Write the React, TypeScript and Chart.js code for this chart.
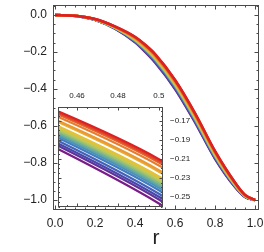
import React, { useEffect, useRef } from "react";
import { Chart, registerables } from "chart.js";

Chart.register(...registerables);

// ---------- data ----------
const rValues = [0, 0.1, 0.2, 0.3, 0.4, 0.45, 0.5, 0.6, 0.7, 0.8, 0.9, 0.95, 1];

const curve01 = [0, -0.004, -0.022, -0.062, -0.118, -0.1596, -0.2103, -0.35, -0.53, -0.735, -0.905, -0.972, -1];
const curve02 = [0, -0.004, -0.0221, -0.0624, -0.1191, -0.1611, -0.2121, -0.3519, -0.5319, -0.7366, -0.9059, -0.9724, -1];
const curve03 = [0, -0.0041, -0.0223, -0.063, -0.1204, -0.1628, -0.214, -0.354, -0.534, -0.7384, -0.907, -0.973, -1];
const curve04 = [0, -0.0041, -0.0226, -0.0637, -0.1223, -0.1653, -0.217, -0.3572, -0.5372, -0.741, -0.9086, -0.9737, -1];
const curve05 = [0, -0.0042, -0.023, -0.065, -0.1255, -0.1694, -0.2219, -0.3625, -0.5425, -0.7455, -0.9112, -0.975, -1];
const curve06 = [0, -0.0043, -0.0231, -0.0654, -0.1265, -0.1708, -0.2235, -0.3642, -0.5442, -0.7469, -0.9121, -0.9754, -1];
const curve07 = [0, -0.0044, -0.0236, -0.0667, -0.1297, -0.175, -0.2285, -0.3695, -0.5495, -0.7514, -0.9148, -0.9767, -1];
const curve08 = [0, -0.0044, -0.0237, -0.0671, -0.1307, -0.1763, -0.2301, -0.3712, -0.5512, -0.7528, -0.9156, -0.9771, -1];
const curve09 = [0, -0.0045, -0.0238, -0.0675, -0.1319, -0.1778, -0.2318, -0.3731, -0.5531, -0.7544, -0.9166, -0.9775, -1];
const curve10 = [0, -0.0045, -0.024, -0.068, -0.1329, -0.1792, -0.2334, -0.3748, -0.5548, -0.7558, -0.9174, -0.978, -1];
const curve11 = [0, -0.0045, -0.0241, -0.0684, -0.1339, -0.1805, -0.235, -0.3766, -0.5566, -0.7573, -0.9183, -0.9784, -1];
const curve12 = [0, -0.0046, -0.0243, -0.0688, -0.135, -0.182, -0.2367, -0.3784, -0.5584, -0.7589, -0.9192, -0.9788, -1];
const curve13 = [0, -0.0046, -0.0244, -0.0692, -0.1361, -0.1833, -0.2383, -0.3801, -0.5601, -0.7603, -0.9201, -0.9792, -1];
const curve14 = [0, -0.0046, -0.0246, -0.0698, -0.1374, -0.1851, -0.2404, -0.3824, -0.5624, -0.7622, -0.9212, -0.9798, -1];
const curve15 = [0, -0.0047, -0.0248, -0.0704, -0.139, -0.1872, -0.2429, -0.385, -0.565, -0.7644, -0.9225, -0.9804, -1];
const curve16 = [0, -0.0048, -0.0251, -0.0714, -0.1414, -0.1903, -0.2466, -0.389, -0.569, -0.7678, -0.9245, -0.9814, -1];
const curve17 = [0, -0.0048, -0.0254, -0.0722, -0.1435, -0.1931, -0.2498, -0.3925, -0.5725, -0.7707, -0.9262, -0.9822, -1];
const curve18 = [0, -0.0049, -0.0256, -0.0729, -0.1454, -0.1956, -0.2527, -0.3956, -0.5756, -0.7733, -0.9278, -0.9829, -1];
const curve19 = [0, -0.005, -0.026, -0.074, -0.148, -0.199, -0.2568, -0.4, -0.58, -0.777, -0.93, -0.984, -1];

const curves = [
  curve01, curve02, curve03, curve04, curve05, curve06, curve07, curve08, curve09, curve10,
  curve11, curve12, curve13, curve14, curve15, curve16, curve17, curve18, curve19,
];

const mainXTicks = [0, 0.2, 0.4, 0.6, 0.8, 1.0];
const mainXLabels = ["0.0", "0.2", "0.4", "0.6", "0.8", "1.0"];
const mainYTicks = [0, -0.2, -0.4, -0.6, -0.8, -1.0];
const mainYLabels = ["0.0", "\u22120.2", "\u22120.4", "\u22120.6", "\u22120.8", "\u22121.0"];
const insetXTicks = [0.46, 0.48, 0.5];
const insetXLabels = ["0.46", "0.48", "0.5"];
const insetYTicks = [-0.17, -0.19, -0.21, -0.23, -0.25];
const insetYLabels = ["\u22120.17", "\u22120.19", "\u22120.21", "\u22120.23", "\u22120.25"];
const xTitle = "r";

// ---------- styles ----------
const FONT = "'Liberation Sans', Arial, sans-serif";
const FRAME = "#4a4a4a";
const TEXT = "#222222";

const rainbowStops = [
  [0.471, 0.109, 0.527],
  [0.281, 0.278, 0.673],
  [0.25, 0.489, 0.765],
  [0.355, 0.641, 0.674],
  [0.535, 0.735, 0.508],
  [0.73, 0.79, 0.354],
  [0.891, 0.762, 0.222],
  [0.917, 0.595, 0.193],
  [0.89, 0.388, 0.165],
  [0.857, 0.131, 0.132],
];

function rainbow(t: number): string {
  const n = rainbowStops.length - 1;
  const p = Math.max(0, Math.min(1, t)) * n;
  const i = Math.min(n - 1, Math.floor(p));
  const f = p - i;
  const a = rainbowStops[i];
  const b = rainbowStops[i + 1];
  const c = a.map((v, k) => Math.round((v + (b[k] - v) * f) * 255));
  return `rgb(${c[0]},${c[1]},${c[2]})`;
}

function makeFramePlugin(
  id: string,
  xMajor: number[],
  yMajor: number[],
  xMinorStep: number,
  yMinorStep: number,
  majorLen: number,
  minorLen: number,
  fillWhite: boolean
) {
  return {
    id,
    beforeDraw(chart: any) {
      if (!fillWhite) return;
      const { ctx, chartArea: a } = chart;
      ctx.save();
      ctx.fillStyle = "#ffffff";
      ctx.fillRect(a.left, a.top, a.right - a.left, a.bottom - a.top);
      ctx.restore();
    },
    afterDraw(chart: any) {
      const { ctx, chartArea: a } = chart;
      const xs = chart.scales.x;
      const ys = chart.scales.y;
      ctx.save();
      ctx.strokeStyle = FRAME;
      ctx.lineWidth = 1;
      const L = Math.round(a.left) + 0.5;
      const R = Math.round(a.right) - 0.5;
      const T = Math.round(a.top) + 0.5;
      const B = Math.round(a.bottom) - 0.5;
      ctx.strokeRect(L, T, R - L, B - T);
      const minors = (scale: any, step: number, majors: number[]) => {
        const out: number[] = [];
        const k0 = Math.ceil(scale.min / step - 1e-9);
        const k1 = Math.floor(scale.max / step + 1e-9);
        for (let k = k0; k <= k1; k++) {
          const v = k * step;
          if (!majors.some((m) => Math.abs(m - v) < step * 0.01)) out.push(v);
        }
        return out;
      };
      ctx.beginPath();
      const xt = (v: number, len: number) => {
        const px = Math.round(xs.getPixelForValue(v)) + 0.5;
        ctx.moveTo(px, B);
        ctx.lineTo(px, B - len);
        ctx.moveTo(px, T);
        ctx.lineTo(px, T + len);
      };
      const yt = (v: number, len: number) => {
        const py = Math.round(ys.getPixelForValue(v)) + 0.5;
        ctx.moveTo(L, py);
        ctx.lineTo(L + len, py);
        ctx.moveTo(R, py);
        ctx.lineTo(R - len, py);
      };
      xMajor.forEach((v) => xt(v, majorLen));
      minors(xs, xMinorStep, xMajor).forEach((v) => xt(v, minorLen));
      yMajor.forEach((v) => yt(v, majorLen));
      minors(ys, yMinorStep, yMajor).forEach((v) => yt(v, minorLen));
      ctx.stroke();
      ctx.restore();
    },
  };
}

function buildDatasets(width: number, clip: any) {
  return curves.map((c, i) => ({
    label: `curve ${i + 1}`,
    data: rValues.map((r, j) => ({ x: r, y: c[j] })),
    borderColor: rainbow(1 - i / (curves.length - 1)),
    borderWidth: width,
    pointRadius: 0,
    fill: false,
    cubicInterpolationMode: "monotone" as const,
    clip,
  }));
}

export default function App() {
  const mainRef = useRef<HTMLCanvasElement | null>(null);
  const insetRef = useRef<HTMLCanvasElement | null>(null);

  useEffect(() => {
    document.body.style.margin = "0";
    const main = new Chart(mainRef.current as HTMLCanvasElement, {
      type: "line",
      data: { datasets: buildDatasets(2.5, 2) as any },
      options: {
        animation: false,
        responsive: false,
        devicePixelRatio: 1,
        layout: { padding: { left: 0, right: 5, top: 5, bottom: 0 } },
        plugins: { legend: { display: false }, tooltip: { enabled: false } },
        scales: {
          x: {
            type: "linear",
            position: "bottom",
            min: -0.01,
            max: 1.02,
            grid: { display: false, drawTicks: false },
            border: { display: false },
            afterBuildTicks: (s: any) => {
              s.ticks = mainXTicks.map((value) => ({ value }));
            },
            afterFit: (s: any) => {
              s.height = 42;
              s.paddingLeft = 0;
              s.paddingRight = 0;
            },
            ticks: {
              autoSkip: false,
              maxRotation: 0,
              padding: 6,
              color: TEXT,
              font: { family: FONT, size: 12 },
              callback: (_v: any, i: number) => mainXLabels[i],
            },
            title: {
              display: true,
              text: xTitle,
              color: TEXT,
              font: { family: FONT, size: 21, lineHeight: 1 },
              padding: { top: 0, bottom: 3 },
            },
          },
          y: {
            type: "linear",
            position: "left",
            min: -1.054,
            max: 0.054,
            grid: { display: false, drawTicks: false },
            border: { display: false },
            afterBuildTicks: (s: any) => {
              s.ticks = mainYTicks.map((value) => ({ value }));
            },
            afterFit: (s: any) => {
              s.width = 53;
              s.paddingTop = 0;
              s.paddingBottom = 0;
            },
            ticks: {
              autoSkip: false,
              padding: 6,
              color: TEXT,
              font: { family: FONT, size: 12 },
              callback: (_v: any, i: number) => mainYLabels[i],
            },
          },
        },
      },
      plugins: [makeFramePlugin("mainFrame", mainXTicks, mainYTicks, 0.05, 0.05, 4, 2, false)],
    });

    const inset = new Chart(insetRef.current as HTMLCanvasElement, {
      type: "line",
      data: { datasets: buildDatasets(2.2, 0) as any },
      options: {
        animation: false,
        responsive: false,
        devicePixelRatio: 1,
        layout: { padding: { left: 58, right: 0, top: 0, bottom: 45 } },
        plugins: { legend: { display: false }, tooltip: { enabled: false } },
        scales: {
          x: {
            type: "linear",
            position: "top",
            min: 0.4507,
            max: 0.502,
            grid: { display: false, drawTicks: false },
            border: { display: false },
            afterBuildTicks: (s: any) => {
              s.ticks = insetXTicks.map((value) => ({ value }));
            },
            afterFit: (s: any) => {
              s.height = 107;
              s.paddingLeft = 0;
              s.paddingRight = 0;
            },
            ticks: {
              autoSkip: false,
              maxRotation: 0,
              padding: 6,
              color: TEXT,
              font: { family: FONT, size: 8 },
              callback: (_v: any, i: number) => insetXLabels[i],
            },
          },
          y: {
            type: "linear",
            position: "right",
            min: -0.2605,
            max: -0.1557,
            grid: { display: false, drawTicks: false },
            border: { display: false },
            afterBuildTicks: (s: any) => {
              s.ticks = insetYTicks.map((value) => ({ value }));
            },
            afterFit: (s: any) => {
              s.width = 101;
              s.paddingTop = 0;
              s.paddingBottom = 0;
            },
            ticks: {
              autoSkip: false,
              padding: 7,
              color: TEXT,
              font: { family: FONT, size: 8 },
              callback: (_v: any, i: number) => insetYLabels[i],
            },
          },
        },
      },
      plugins: [makeFramePlugin("insetFrame", insetXTicks, insetYTicks, 0.005, 0.005, 3, 1.5, true)],
    });

    return () => {
      main.destroy();
      inset.destroy();
    };
  }, []);

  return (
    <div style={{ position: "absolute", left: 0, top: 0, width: 264, height: 252, background: "#fff" }}>
      <canvas ref={mainRef} width={264} height={252} style={{ position: "absolute", left: 0, top: 0 }} />
      <canvas ref={insetRef} width={264} height={252} style={{ position: "absolute", left: 0, top: 0 }} />
    </div>
  );
}
